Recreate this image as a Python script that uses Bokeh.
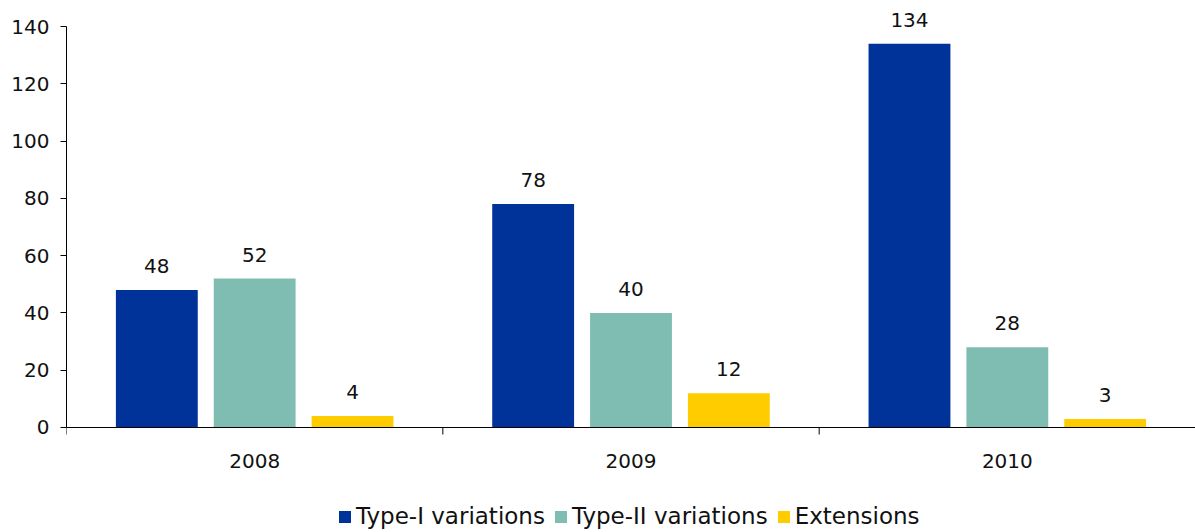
import math
from bokeh.plotting import figure
from bokeh.models import ColumnDataSource, Range1d, FixedTicker, Legend, LegendItem, LabelSet, Span
from bokeh.core.properties import value
from bokeh.embed import file_html
from bokeh.resources import INLINE

years = ["2008", "2009", "2010"]
series = ["Type-I variations", "Type-II variations", "Extensions"]
type1 = [48, 78, 134]
type2 = [52, 40, 28]
extensions = [4, 12, 3]
colors = ["#003399", "#7FBDB2", "#FFCC00"]
y_ticks = [0, 20, 40, 60, 80, 100, 120, 140]

FONT = "DejaVu Sans"
offsets = [-0.26, 0.0, 0.26]
bar_w = 0.2175

p = figure(frame_width=1129, frame_height=532, output_backend="svg", toolbar_location=None,
           x_range=Range1d(0, 3), y_range=Range1d(-36.66, 149.08), x_axis_location=None,
           min_border_left=66, min_border_right=0, min_border_top=0, min_border_bottom=0)
p.outline_line_color = None
p.grid.visible = False

items = []
for vals, name, col, off in zip([type1, type2, extensions], series, colors, offsets):
    xs = [i + 0.5 + off for i in range(len(years))]
    src = ColumnDataSource(dict(x=xs, top=vals, lab=[str(v) for v in vals]))
    r = p.vbar(x="x", top="top", width=bar_w, bottom=0, source=src, fill_color=col, line_color=None)
    items.append(LegendItem(label=name, renderers=[r]))
    p.add_layout(LabelSet(x="x", y="top", text="lab", source=src, text_align="center",
                          text_baseline="bottom", y_offset=17, text_font=value(FONT),
                          text_font_size="20px", text_color="#111111"))

# y axis (stops at 0 and 140)
p.yaxis.ticker = FixedTicker(ticks=y_ticks)
p.yaxis.bounds = (0, 140)
p.yaxis.axis_line_color = "black"
p.yaxis.major_tick_line_color = "black"
p.yaxis.major_tick_out = 6
p.yaxis.major_tick_in = 0
p.yaxis.minor_tick_line_color = None
p.yaxis.major_label_standoff = 11
p.yaxis.major_label_text_font = FONT
p.yaxis.major_label_text_font_size = "20px"
p.yaxis.major_label_text_color = "#111111"

# category axis at y = 0: baseline, boundary ticks, centered year labels
p.add_layout(Span(location=0, dimension="width", line_color="black", line_width=1))
boundaries = list(range(len(years) + 1))
p.ray(x=boundaries, y=[0] * len(boundaries), length=7, length_units="screen",
      angle=-math.pi / 2, line_color="black", line_width=1)
centers = [i + 0.5 for i in range(len(years))]
ysrc = ColumnDataSource(dict(x=centers, y=[0] * len(centers), lab=years))
p.add_layout(LabelSet(x="x", y="y", text="lab", source=ysrc, text_align="center",
                      text_baseline="middle", y_offset=-34, text_font=value(FONT),
                      text_font_size="20px", text_color="#111111"))

legend = Legend(items=items, orientation="horizontal", location=(271, 3),
                glyph_width=15, glyph_height=15, label_standoff=4, spacing=8,
                label_text_font=FONT, label_text_font_size="23px", label_text_color="#111111",
                border_line_color=None, background_fill_alpha=0, padding=0, margin=0)
p.add_layout(legend, "center")

open("out.html", "w").write(file_html(p, INLINE))
